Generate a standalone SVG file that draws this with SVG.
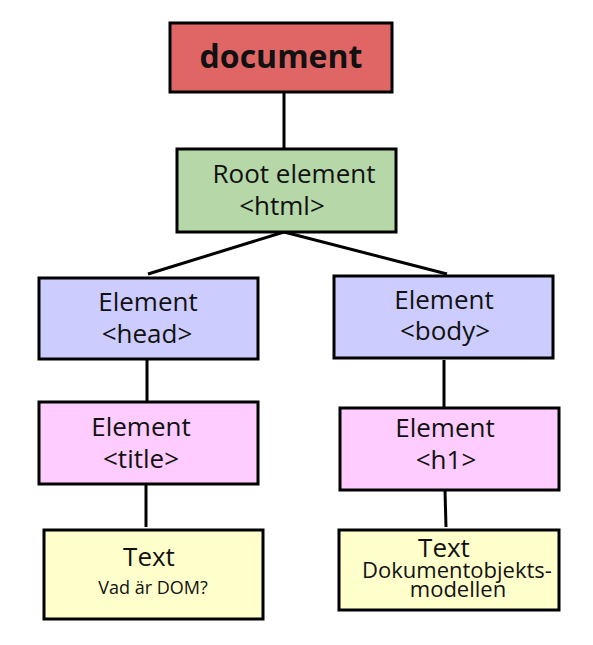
<svg xmlns="http://www.w3.org/2000/svg" width="593" height="645" viewBox="0 0 593 645">
<style>
rect{stroke:#000;stroke-width:3}
text{font-family:"Open Sans","Noto Sans","DejaVu Sans",sans-serif;fill:#111;text-anchor:middle}
.big{font-size:26px}
.sm{font-size:18px}
.title{font-size:32px;font-weight:bold}
.doc{fill:#e06666}
.root{fill:#b6d7a8}
.el{fill:#ccccff}
.el2{fill:#ffccff}
.txt{fill:#ffffcc}
#connectors line{stroke:#000;stroke-width:3}
</style>
<rect width="593" height="645" fill="#fff" style="stroke:none"/>
<g id="connectors">
<line x1="284" y1="92" x2="284" y2="149"/>
<line x1="284" y1="232" x2="148" y2="274"/>
<line x1="284" y1="232" x2="447" y2="274"/>
<line x1="147" y1="359" x2="147" y2="402"/>
<line x1="146" y1="484" x2="146" y2="527"/>
<line x1="444" y1="360" x2="444" y2="409"/>
<line x1="445" y1="490" x2="446" y2="527"/>
</g>
<g id="document"><rect class="doc" x="170" y="23" width="222" height="69"/><text class="title" x="281" y="68">document</text></g>
<g id="root"><rect class="root" x="177" y="149" width="219" height="83"/><text class="big" x="294" y="183">Root element</text><text class="big" x="282" y="215">&lt;html&gt;</text></g>
<g id="head"><rect class="el" x="39" y="278" width="219" height="81"/><text class="big" x="148" y="311">Element</text><text class="big" x="147" y="343">&lt;head&gt;</text></g>
<g id="title"><rect class="el2" x="39" y="402" width="219" height="82"/><text class="big" x="141" y="436">Element</text><text class="big" x="141" y="468">&lt;title&gt;</text></g>
<g id="text-title"><rect class="txt" x="44" y="530" width="219" height="89"/><text class="big" x="149" y="566">Text</text><text class="sm" x="153" y="594">Vad är DOM?</text></g>
<g id="body"><rect class="el" x="334" y="276" width="219" height="82"/><text class="big" x="444" y="309">Element</text><text class="big" x="445" y="340">&lt;body&gt;</text></g>
<g id="h1"><rect class="el2" x="340" y="408" width="219" height="82"/><text class="big" x="445" y="437">Element</text><text class="big" x="446" y="469">&lt;h1&gt;</text></g>
<g id="text-h1"><rect class="txt" x="339" y="530" width="220" height="80"/><text class="big" x="444" y="557">Text</text><text style="font-size:22px" x="457" y="578">Dokumentobjekts-</text><text style="font-size:22px" x="458" y="597">modellen</text></g>
</svg>
